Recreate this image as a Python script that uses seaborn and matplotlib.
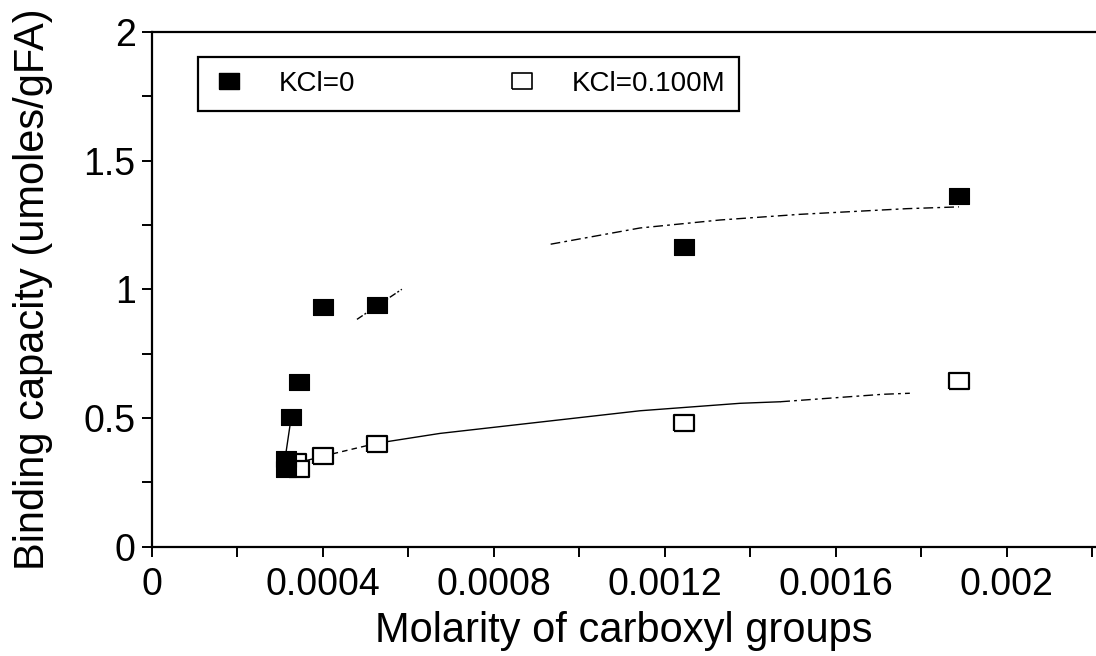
import matplotlib
matplotlib.use("Agg")
import matplotlib.pyplot as plt
import seaborn as sns
import pandas as pd
from matplotlib.lines import Line2D
from matplotlib.ticker import FixedLocator, FixedFormatter, MultipleLocator

# ---- data ----
kcl0_x = [0.000314, 0.000314, 0.000326, 0.000345, 0.000401, 0.000528, 0.001244, 0.001888]
kcl0_y = [0.302, 0.341, 0.502, 0.638, 0.931, 0.939, 1.166, 1.364]

kcl100_x = [0.000338, 0.000345, 0.000401, 0.000528, 0.001244, 0.001888]
kcl100_y = [0.330, 0.300, 0.352, 0.397, 0.482, 0.645]

# visible pieces of the fitted curves
fit0_a_x = [0.000310, 0.000326]
fit0_a_y = [0.320, 0.500]
fit0_b_x = [0.000480, 0.000585]
fit0_b_y = [0.883, 1.000]
fit0_c_x = [0.000933, 0.001142, 0.001329, 0.001516, 0.001766, 0.001888]
fit0_c_y = [1.175, 1.238, 1.269, 1.291, 1.313, 1.320]

fit1_a_x = [0.000340, 0.000401]
fit1_a_y = [0.325, 0.352]
fit1_b_x = [0.000401, 0.000527]
fit1_b_y = [0.352, 0.402]
fit1_c_x = [0.000527, 0.000674, 0.000908, 0.001142, 0.001376, 0.001470]
fit1_c_y = [0.402, 0.440, 0.484, 0.528, 0.557, 0.563]
fit1_d_x = [0.001470, 0.001710, 0.001773]
fit1_d_y = [0.563, 0.592, 0.596]

x_ticks = [0, 0.0004, 0.0008, 0.0012, 0.0016, 0.002]
x_tick_labels = ["0", "0.0004", "0.0008", "0.0012", "0.0016", "0.002"]
y_ticks = [0, 0.5, 1, 1.5, 2]
y_tick_labels = ["0", "0.5", "1", "1.5", "2"]
series_labels = ["KCl=0", "KCl=0.100M"]
x_label = "Molarity of carboxyl groups"
y_label = "Binding capacity (umoles/gFA)"

# ---- style ----
sns.set_style("ticks")
plt.rcParams["font.family"] = ["Liberation Sans", "DejaVu Sans"]
plt.rcParams["text.color"] = "black"
plt.rcParams["axes.labelcolor"] = "black"

W, H = 1096, 656
x0_px, y0_px, y2_px = 151.7, 546.7, 31.8
fig = plt.figure(figsize=(W / 100, H / 100), dpi=100)
ax = fig.add_axes([x0_px / W, 1 - y0_px / H, 1 - x0_px / W, (y0_px - y2_px) / H])

rect = [(-1, -0.78), (1, -0.78), (1, 0.78), (-1, 0.78), (-1, -0.78)]


def seg(xs, ys, dashes=None):
    d = pd.DataFrame({"x": xs, "y": ys})
    sns.lineplot(data=d, x="x", y="y", ax=ax, sort=False, estimator=None,
                 color="black", lw=1.0)
    if dashes is not None:
        ax.lines[-1].set_dashes(dashes)


seg(fit0_a_x, fit0_a_y)
seg(fit0_b_x, fit0_b_y, (5, 1.5, 1.5, 1.5))
seg(fit0_c_x, fit0_c_y, (7, 3, 2, 3))
seg(fit1_a_x, fit1_a_y)
seg(fit1_b_x, fit1_b_y, (4, 3))
seg(fit1_c_x, fit1_c_y)
seg(fit1_d_x, fit1_d_y, (7, 3, 2, 3))

d1 = pd.DataFrame({"x": kcl100_x, "y": kcl100_y})
sns.scatterplot(data=d1, x="x", y="y", ax=ax, marker=rect, s=210,
                facecolor="white", edgecolor="black", linewidth=1.6, zorder=3)
d0 = pd.DataFrame({"x": kcl0_x, "y": kcl0_y})
sns.scatterplot(data=d0, x="x", y="y", ax=ax, marker=rect, s=210,
                color="black", edgecolor="black", linewidth=0.8, zorder=4)

ax.set_xlim(0, (W - x0_px) / 427600)
ax.set_ylim(0, 2)

ax.xaxis.set_major_locator(FixedLocator(x_ticks))
ax.xaxis.set_major_formatter(FixedFormatter(x_tick_labels))
ax.xaxis.set_minor_locator(MultipleLocator(0.0002))
ax.yaxis.set_major_locator(FixedLocator(y_ticks))
ax.yaxis.set_major_formatter(FixedFormatter(y_tick_labels))
ax.yaxis.set_minor_locator(MultipleLocator(0.25))

ax.tick_params(axis="both", which="both", direction="out", length=7.5, width=1.4,
               color="black", labelsize=27, labelcolor="black")
ax.tick_params(axis="x", which="major", pad=7)
ax.tick_params(axis="y", which="major", pad=4)

for side in ["left", "bottom", "top"]:
    ax.spines[side].set_visible(True)
    ax.spines[side].set_linewidth(1.6)
    ax.spines[side].set_color("black")
ax.spines["right"].set_visible(False)

ax.set_xlabel(x_label, fontsize=30, labelpad=6, color="black")
ax.set_ylabel(y_label, fontsize=30, labelpad=22, color="black")

handles = [
    Line2D([], [], ls="none", marker=rect, markersize=15, markerfacecolor="black",
           markeredgecolor="black"),
    Line2D([], [], ls="none", marker=rect, markersize=14, markerfacecolor="white",
           markeredgecolor="black", markeredgewidth=1.2),
]
ax_w = W - x0_px
ax_h = y0_px - y2_px
leg = ax.legend(handles, series_labels, ncol=2, loc="upper left",
                bbox_to_anchor=((198 - x0_px) / ax_w, (y0_px - 57) / ax_h),
                borderaxespad=0, frameon=True, fancybox=False, framealpha=1,
                edgecolor="black", fontsize=20, handlelength=1.2, handletextpad=1.2,
                columnspacing=5.4, borderpad=0.5, labelcolor="black")
leg.get_frame().set_linewidth(1.6)

fig.savefig("out.png", dpi=100)
